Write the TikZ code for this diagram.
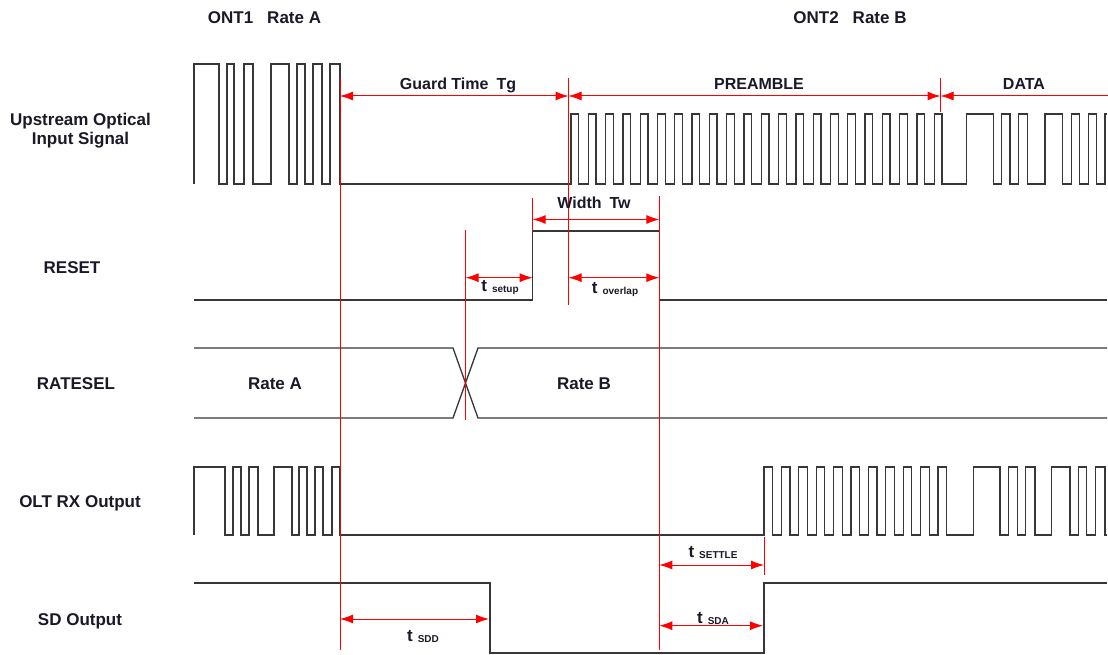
\documentclass[tikz,border=0pt]{standalone}
\usepackage{fontspec}
\setmainfont{Liberation Sans}
\usetikzlibrary{arrows.meta}
\definecolor{txt}{RGB}{25,25,40}
\definecolor{wv}{RGB}{55,55,55}
\newcommand\tsub[1]{\hspace{5pt}\raisebox{-1.5pt}{\fontsize{10}{10}\selectfont #1}}
\begin{document}
\begin{tikzpicture}[x=1pt,y=-1pt,
  wave/.style={draw=wv,line width=1.3pt,line join=miter},
  marker/.style={draw=red,line width=1pt},
  dim/.style={draw=red,line width=1pt,{Latex[length=13pt,width=9pt]}-{Latex[length=13pt,width=9pt]}},
  dimL/.style={draw=red,line width=1pt,{Latex[length=13pt,width=9pt]}-},
  lbl/.style={text=txt,font=\fontsize{17}{19}\selectfont\bfseries,inner sep=0pt,anchor=base,align=center},
  alab/.style={text=txt,font=\fontsize{16}{18}\selectfont\bfseries,inner sep=0pt,anchor=base},
  tlab/.style={text=txt,font=\fontsize{17}{17}\selectfont\bfseries,inner sep=0pt,anchor=base},
]
\useasboundingbox (0,0) rectangle (1108,655);
\fill[white] (0,0) rectangle (1108,655);

% ---------- Upstream optical input signal
\draw[wave] (194,184)
  \foreach \a/\b in {194/219,227/234,244/253,271/289,297/305,313/322,330/340}
    {-- (\a,184) -- (\a,64) -- (\b,64) -- (\b,184)}
  -- (571,184)
  \foreach \k in {0,...,21}
    {-- ({571+17.3*\k},184) -- ({571+17.3*\k},114) -- ({578.7+17.3*\k},114) -- ({578.7+17.3*\k},184)}
  \foreach \a/\b in {966.7/993.3,1001.7/1010,1018.3/1027.3,1045/1062.7,1071.7/1079.3,1088.3/1096.7}
    {-- (\a,184) -- (\a,114) -- (\b,114) -- (\b,184)}
  -- (1105,184) -- (1105,114) -- (1107,114);

% ---------- RESET
\draw[wave] (194,300) -- (532.7,300) -- (532.7,231) -- (659.3,231) -- (659.3,300) -- (1107,300);

% ---------- RATESEL
\draw[wave] (194,348) -- (453,348) -- (478,418) -- (1107,418);
\draw[wave] (194,418) -- (453,418) -- (478,348) -- (1107,348);

% ---------- OLT RX output
\draw[wave] (194,535)
  \foreach \a/\b in {194/225,233/241,249/258,274/292,299/307,315/323,332/340}
    {-- (\a,535) -- (\a,467) -- (\b,467) -- (\b,535)}
  -- (764,535)
  \foreach \k in {0,...,10}
    {-- ({764+17.4*\k},535) -- ({764+17.4*\k},467) -- ({772.6+17.4*\k},467) -- ({772.6+17.4*\k},535)}
  \foreach \a/\b in {973.3/1000,1008.3/1017.3,1025.7/1035,1051.7/1070,1078.3/1086.7,1095.7/1105}
    {-- (\a,535) -- (\a,467) -- (\b,467) -- (\b,535)}
  -- (1107,535);

% ---------- SD output
\draw[wave] (194,583) -- (490,583) -- (490,653) -- (764,653) -- (764,583) -- (1107,583);

% ---------- red markers
\draw[marker] (340,78) -- (340,650);
\draw[marker] (568.5,78) -- (568.5,305);
\draw[marker] (940.5,78) -- (940.5,112);
\draw[marker] (532.7,198) -- (532.7,231);
\draw[marker] (659.3,196) -- (659.3,650);
\draw[marker] (465.5,230) -- (465.5,420);
\draw[marker] (764,537) -- (764,575);

% ---------- dimension arrows
\coordinate (gA) at (340,96);
\coordinate (gB) at (568.5,96);
\coordinate (gC) at (940.5,96);
\coordinate (gD) at (1108,96);
\draw[dim] (gA) -- (gB);
\draw[dim] (gB) -- (gC);
\draw[dimL] (gC) -- (gD);

\coordinate (wA) at (532.7,219.5);
\coordinate (wB) at (659.3,219.5);
\draw[dim] (wA) -- (wB);

\coordinate (sA) at (465.5,277.7);
\coordinate (sB) at (532.7,277.7);
\draw[dim] (sA) -- (sB);

\coordinate (oA) at (568.5,277.7);
\coordinate (oB) at (659.3,277.7);
\draw[dim] (oA) -- (oB);

\coordinate (tA) at (659.3,565);
\coordinate (tB) at (764,565);
\draw[dim] (tA) -- (tB);

\coordinate (dA) at (340,619);
\coordinate (dB) at (489,619);
\draw[dim] (dA) -- (dB);

\coordinate (aA) at (659.3,625.7);
\coordinate (aB) at (763,625.7);
\draw[dim] (aA) -- (aB);

% ---------- labels
\node[lbl] (ont1) at (264.5,24) {ONT1\hspace{14pt}Rate A};
\node[lbl] (ont2) at (850,24) {ONT2\hspace{14pt}Rate B};
\node[lbl] (up1) at (80.5,126) {Upstream Optical};
\node[lbl] (up2) at (80.5,145) {Input Signal};
\node[lbl] (reset) at (72,273) {RESET};
\node[lbl] (ratesel) at (76,389) {RATESEL};
\node[lbl] (olt) at (80,507) {OLT RX Output};
\node[lbl] (sd) at (80,625) {SD Output};
\node[lbl] (ra) at (275,389) {Rate A};
\node[lbl] (rb) at (584,389) {Rate B};

\node[alab] (guard) at (458,90) {Guard Time\hspace{8pt}Tg};
\node[alab] (pre) at (759,90) {PREAMBLE};
\node[alab] (data) at (1024,90) {DATA};
\node[alab] (width) at (594,209) {Width\hspace{8pt}Tw};

\node[tlab] (tset) at (500,291) {t\tsub{setup}};
\node[tlab] (tovl) at (615,293) {t\tsub{overlap}};
\node[tlab] (tstl) at (713,557) {t\tsub{SETTLE}};
\node[tlab] (tsda) at (713,623) {t\tsub{SDA}};
\node[tlab] (tsdd) at (423,641) {t\tsub{SDD}};
\end{tikzpicture}
\end{document}
